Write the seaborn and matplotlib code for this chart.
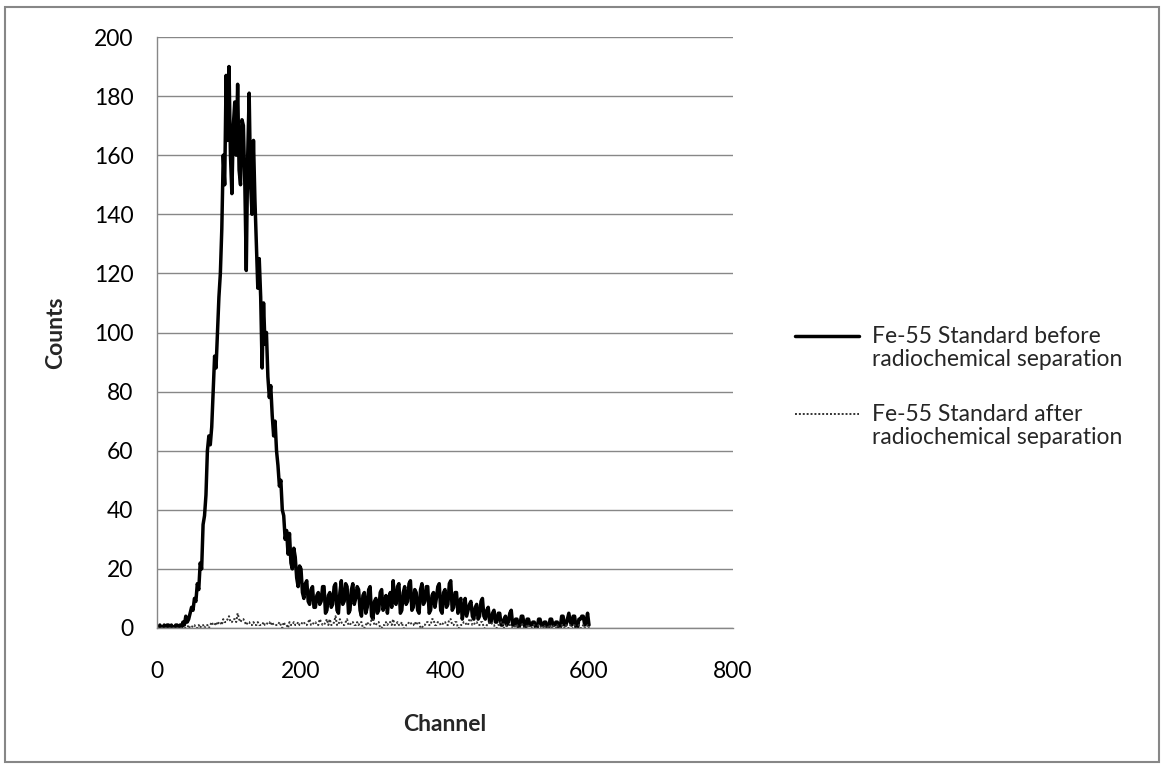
import matplotlib
matplotlib.use("Agg")
import matplotlib.pyplot as plt
import seaborn as sns
import pandas as pd
from matplotlib.patches import Rectangle
from matplotlib.legend_handler import HandlerLine2D

# ---- data ----
channels = list(range(0, 601, 2))
before_counts = [
    0, 0, 1, 0, 0, 1, 0, 1, 1, 0, 1, 0, 0, 1, 1, 0, 1, 0, 2, 1,                 # 0-38
    4, 2, 3, 5, 7, 6, 10, 9, 15, 13, 22, 20, 35, 38, 45, 60, 65, 62, 68, 80,     # 40-78
    92, 88, 100, 112, 120, 135, 160, 150, 187, 165, 190, 160, 147, 170, 178, 160, 184, 155, 150, 172,  # 80-118
    170, 150, 121, 160, 181, 150, 140, 165, 145, 130, 115, 125, 112, 88, 110, 96, 100, 85, 78, 82,     # 120-158
    72, 65, 70, 60, 55, 48, 50, 40, 38, 30, 33, 25, 32, 22, 20, 27, 24, 17, 14, 21,  # 160-198
    20, 12, 10, 15, 16, 9, 8, 13, 14, 7, 7, 11, 12, 8, 9, 14, 14, 5, 6, 11,         # 200-238
    12, 7, 8, 14, 15, 6, 5, 12, 16, 8, 9, 15, 14, 5, 6, 13, 15, 8, 10, 14,          # 240-278
    13, 6, 4, 11, 12, 5, 7, 13, 14, 4, 3, 9, 10, 5, 6, 12, 13, 6, 8, 11,            # 280-318
    5, 10, 12, 7, 16, 9, 8, 14, 15, 5, 6, 12, 14, 8, 9, 15, 16, 6, 7, 13,           # 320-358
    12, 6, 5, 13, 15, 8, 9, 14, 14, 5, 6, 11, 12, 7, 10, 14, 15, 6, 5, 12,          # 360-398
    13, 7, 8, 15, 16, 6, 7, 12, 12, 5, 9, 10, 3, 6, 10, 4, 6, 8, 9, 4,              # 400-438
    3, 7, 8, 3, 4, 9, 10, 4, 3, 6, 7, 2, 2, 5, 6, 2, 2, 5, 5, 1,                    # 440-478
    1, 3, 4, 1, 2, 5, 6, 1, 1, 3, 3, 0, 1, 4, 4, 1, 0, 3, 3, 1,                     # 480-518
    1, 2, 2, 0, 0, 3, 3, 1, 1, 2, 2, 0, 0, 3, 3, 1, 1, 2, 2, 0,                     # 520-558
    0, 4, 4, 1, 1, 3, 5, 2, 1, 4, 4, 0, 0, 3, 3, 4, 4, 1, 2, 5,                     # 560-598
    1,                                                                              # 600
]
after_counts = [
    0, 0, 0, 0, 0, 0, 0, 0, 0, 0, 0, 0, 0, 0, 0, 0, 0, 0, 0, 0,   # 0-38
    0, 0, 1, 0, 0, 1, 1, 0, 0, 1, 0, 1, 1, 0, 1, 1, 0, 1, 2, 1,   # 40-78
    1, 2, 1, 2, 2, 1, 3, 2, 2, 3, 4, 2, 2, 3, 3, 2, 5, 3, 2, 3,   # 80-118
    3, 2, 1, 2, 2, 1, 1, 2, 1, 1, 2, 1, 1, 1, 2, 1, 1, 2, 2, 1,   # 120-158
    2, 1, 1, 1, 1, 2, 1, 0, 2, 1, 1, 0, 2, 1, 1, 2, 1, 1, 2, 1,   # 160-198
    1, 2, 2, 1, 1, 2, 3, 1, 1, 2, 2, 1, 1, 3, 2, 1, 1, 2, 3, 1,   # 200-238
    3, 1, 1, 2, 4, 1, 1, 3, 2, 1, 1, 2, 3, 1, 1, 2, 2, 1, 1, 2,   # 240-278
    1, 2, 2, 0, 0, 1, 2, 1, 1, 3, 3, 1, 1, 2, 2, 0, 0, 1, 1, 2,   # 280-318
    1, 2, 2, 1, 3, 1, 1, 2, 1, 1, 2, 0, 0, 1, 1, 2, 2, 1, 1, 2,   # 320-358
    1, 2, 2, 0, 0, 1, 1, 2, 2, 1, 1, 3, 3, 1, 1, 2, 2, 1, 1, 2,   # 360-398
    2, 1, 1, 3, 3, 1, 1, 2, 2, 0, 0, 1, 1, 2, 2, 1, 1, 3, 3, 1,   # 400-438
    1, 2, 2, 1, 1, 2, 2, 0, 0, 1, 1, 2, 2, 1, 1, 0, 0, 1, 1, 2,   # 440-478
    2, 0, 0, 1, 1, 1, 1, 0, 0, 1, 1, 0, 0, 1, 1, 0, 0, 1, 1, 0,   # 480-518
    0, 1, 1, 0, 0, 1, 1, 0, 0, 1, 0, 0, 1, 0, 0, 1, 0, 0, 1, 0,   # 520-558
    0, 1, 0, 0, 1, 0, 0, 1, 0, 0, 1, 0, 0, 1, 0, 0, 1, 0, 0, 1,   # 560-598
    0,                                                            # 600
]
label_before = "Fe-55 Standard before\nradiochemical separation"
label_after = "Fe-55 Standard after\nradiochemical separation"
y_ticks = [0, 20, 40, 60, 80, 100, 120, 140, 160, 180, 200]
x_ticks = [0, 200, 400, 600, 800]

sns.set_style("white")
plt.rcParams["font.family"] = ["Lato", "DejaVu Sans"]
FS = 16.5

df = pd.DataFrame({
    "Channel": channels * 2,
    "Counts": before_counts + after_counts,
    "Series": [label_before] * len(channels) + [label_after] * len(channels),
})

fig = plt.figure(figsize=(11.64, 7.66), dpi=100)
ax = fig.add_axes([157 / 1164, 1 - 628 / 766, (733 - 157) / 1164, (628 - 37) / 766])

sns.lineplot(data=df[df.Series == label_before], x="Channel", y="Counts",
             color="black", linewidth=2.5, ax=ax, label=label_before, errorbar=None)
sns.lineplot(data=df[df.Series == label_after], x="Channel", y="Counts",
             color="#333333", linewidth=1.4, linestyle=(0, (1, 1)), ax=ax,
             label=label_after, errorbar=None)

ax.set_xlim(0, 800)
ax.set_ylim(0, 200)
ax.set_xticks(x_ticks)
ax.set_yticks(y_ticks)
ax.yaxis.grid(True, color="#878787", linewidth=1.0)
ax.xaxis.grid(False)
ax.set_axisbelow(True)
for s in ["top", "right"]:
    ax.spines[s].set_visible(False)
for s in ["left", "bottom"]:
    ax.spines[s].set_color("#878787")
    ax.spines[s].set_linewidth(1.0)
ax.tick_params(axis="both", length=0, labelsize=FS, colors="black")
ax.tick_params(axis="y", pad=17)
ax.tick_params(axis="x", pad=24)

ax.set_xlabel("Channel", fontsize=FS, fontweight="bold", labelpad=23)
ax.set_ylabel("Counts", fontsize=FS, fontweight="bold", labelpad=20)


class TopLine(HandlerLine2D):
    def create_artists(self, legend, orig_handle, xdescent, ydescent, width,
                       height, fontsize, trans):
        arts = super().create_artists(legend, orig_handle, xdescent, ydescent,
                                      width, height, fontsize, trans)
        for a in arts:
            a.set_ydata([y + 0.55 * fontsize for y in a.get_ydata()])
        return arts


leg = ax.legend(loc="center left", bbox_to_anchor=(795 / 1164, 1 - 387 / 766),
                bbox_transform=fig.transFigure, frameon=False, fontsize=FS,
                handlelength=2.8, handletextpad=0.55, labelspacing=1.5,
                borderaxespad=0, borderpad=0, handler_map={
                    ax.lines[0]: TopLine(), ax.lines[1]: TopLine()})
for t in leg.get_texts():
    t.set_linespacing(1.12)

fig.patches.append(Rectangle((5 / 1164, 4 / 766), 1154 / 1164, 755 / 766,
                             transform=fig.transFigure, fill=False,
                             edgecolor="#878787", linewidth=1.5))

fig.savefig("out.png", dpi=100)
